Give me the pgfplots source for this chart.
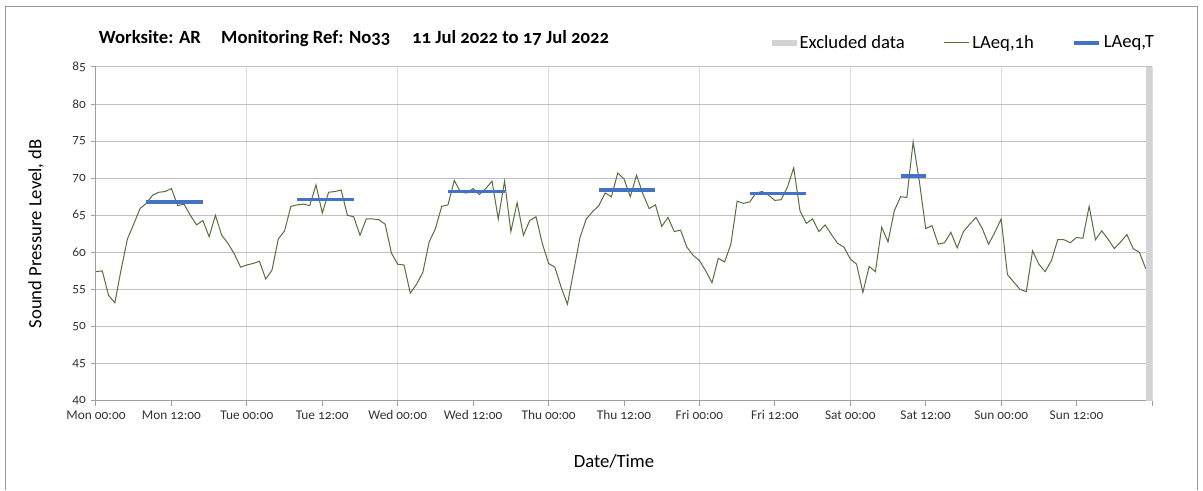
\documentclass[border=0pt]{standalone}
\usepackage{pgfplots}
\pgfplotsset{compat=1.18}
\usepackage{pgfplotstable}
\usepackage{fontspec}
\setmainfont{Carlito}[Numbers=OldStyle]
\definecolor{lgreen}{RGB}{84,112,60}
\definecolor{lblue}{RGB}{68,114,196}
\definecolor{excl}{RGB}{211,211,211}
\definecolor{hgrid}{RGB}{192,192,192}
\definecolor{vgrid}{RGB}{220,220,220}
\definecolor{axgray}{RGB}{160,160,160}
\pgfplotstableread{
h v
0 57.4
1 57.5
2 54.2
3 53.2
4 57.7
5 61.8
6 63.8
7 65.9
8 66.6
9 67.7
10 68.1
11 68.2
12 68.6
13 66.3
14 66.5
15 65.0
16 63.7
17 64.3
18 62.1
19 65.0
20 62.3
21 61.2
22 59.8
23 58.0
24 58.3
25 58.5
26 58.8
27 56.4
28 57.6
29 61.8
30 62.9
31 66.2
32 66.4
33 66.5
34 66.3
35 69.1
36 65.3
37 68.1
38 68.2
39 68.4
40 65.0
41 64.8
42 62.3
43 64.5
44 64.5
45 64.4
46 63.8
47 59.9
48 58.4
49 58.3
50 54.5
51 55.7
52 57.3
53 61.4
54 63.2
55 66.2
56 66.4
57 69.7
58 68.1
59 68.0
60 68.6
61 67.8
62 68.6
63 69.6
64 64.5
65 69.6
66 62.8
67 66.7
68 62.3
69 64.3
70 64.8
71 61.2
72 58.5
73 58.0
74 55.3
75 53.0
76 57.5
77 62.0
78 64.5
79 65.5
80 66.3
81 68.0
82 67.5
83 70.7
84 69.9
85 67.5
86 70.4
87 67.9
88 65.9
89 66.4
90 63.5
91 64.7
92 62.8
93 63.0
94 60.7
95 59.6
96 58.9
97 57.5
98 55.9
99 59.2
100 58.7
101 61.1
102 66.9
103 66.6
104 66.8
105 68.0
106 68.2
107 67.7
108 67.0
109 67.1
110 68.8
111 71.4
112 65.6
113 63.9
114 64.5
115 62.8
116 63.7
117 62.4
118 61.2
119 60.7
120 59.1
121 58.4
122 54.6
123 58.1
124 57.4
125 63.4
126 61.4
127 65.6
128 67.5
129 67.4
130 74.9
131 69.5
132 63.2
133 63.6
134 61.1
135 61.3
136 62.7
137 60.6
138 62.8
139 63.8
140 64.7
141 63.2
142 61.1
143 62.7
144 64.5
145 57.0
146 56.0
147 55.0
148 54.7
149 60.2
150 58.4
151 57.4
152 58.9
153 61.7
154 61.7
155 61.3
156 62.0
157 61.9
158 66.2
159 61.7
160 62.9
161 61.8
162 60.5
163 61.4
164 62.4
165 60.5
166 60.0
167 57.8
}\hourly
\begin{document}
\begin{tikzpicture}
\path[use as bounding box] (0,0) rectangle (902.25pt,367.5pt);
\draw[gray!80, line width=0.75pt] (3.75pt,0) -- (3.75pt,362.25pt) -- (897.75pt,362.25pt) -- (897.75pt,0);
\begin{axis}[
  at={(72pt,67pt)}, anchor=south west,
  scale only axis, width=792pt, height=250.3pt,
  xmin=0, xmax=168, ymin=40, ymax=85,
  axis x line*=bottom, axis y line*=left,
  axis line style={axgray, line width=0.75pt},
  xtick={0,24,...,168},
  xticklabels={Mon 00:00,Tue 00:00,Wed 00:00,Thu 00:00,Fri 00:00,Sat 00:00,Sun 00:00,{}},
  extra x ticks={12,36,60,84,108,132,156},
  extra x tick labels={Mon 12:00,Tue 12:00,Wed 12:00,Thu 12:00,Fri 12:00,Sat 12:00,Sun 12:00},
  extra x tick style={xmajorgrids=false},
  ytick={40,45,...,85},
  xmajorgrids, ymajorgrids,
  x grid style={vgrid, line width=0.75pt},
  y grid style={hgrid, line width=0.75pt},
  tick align=outside, major tick length=4pt,
  tick style={axgray, line width=0.75pt},
  every tick label/.append style={font=\fontsize{10}{12}\selectfont, text=black!80},
  yticklabel style={/pgf/number format/assume math mode=true},
  xlabel={Date/Time},
  xlabel style={at={(axis description cs:0.4905,-0.183)}, anchor=center, font=\fontsize{14}{16}\selectfont},
  ylabel={Sound Pressure Level, dB},
  ylabel style={at={(axis description cs:-0.0568,0.5)}, anchor=center, font=\fontsize{14}{16}\selectfont},
  legend style={at={(axis description cs:1.0047,1.072)}, anchor=east, draw=none, fill=none,
    legend columns=3, font=\fontsize{14}{16}\selectfont, inner sep=0pt,
    /tikz/every even column/.append style={column sep=27pt}},
  legend cell align=left,
]
\addplot[fill=excl, draw=none,
  legend image code/.code={\fill[excl] (0pt,-2.2pt) rectangle (18.75pt,2.2pt);}]
  coordinates {(167,85) (168,85)} \closedcycle;
\addlegendentry{Excluded data}
\addplot[lgreen, line width=0.75pt,
  legend image code/.code={\draw[lgreen, line width=0.75pt] (0pt,0pt) -- (18.75pt,0pt);}]
  table[x=h, y=v] {\hourly};
\addlegendentry{LAeq,1h}
\addplot[lblue, line width=2.6pt,
  legend image code/.code={\draw[lblue, line width=2.6pt] (0pt,0pt) -- (18.75pt,0pt);}]
  coordinates {(8,66.8) (17,66.8)};
\addlegendentry{LAeq,T}
\addplot[lblue, line width=2.6pt, forget plot] coordinates {(32,67.1) (41,67.1)};
\addplot[lblue, line width=2.6pt, forget plot] coordinates {(56,68.2) (65,68.2)};
\addplot[lblue, line width=2.6pt, forget plot] coordinates {(80,68.4) (89,68.4)};
\addplot[lblue, line width=2.6pt, forget plot] coordinates {(104,67.9) (113,67.9)};
\addplot[lblue, line width=2.6pt, forget plot] coordinates {(128,70.3) (132,70.3)};
\end{axis}
\node[anchor=base west, font=\bfseries\fontsize{14}{16}\selectfont] at (70.65pt,334.6pt) {Worksite: AR};
\node[anchor=base west, font=\bfseries\fontsize{14}{16}\selectfont] at (162.4pt,334.6pt) {Monitoring Ref: No33};
\node[anchor=base west, font=\bfseries\fontsize{14}{16}\selectfont] at (305.6pt,334.6pt) {11 Jul 2022 to 17 Jul 2022};
\end{tikzpicture}
\end{document}
